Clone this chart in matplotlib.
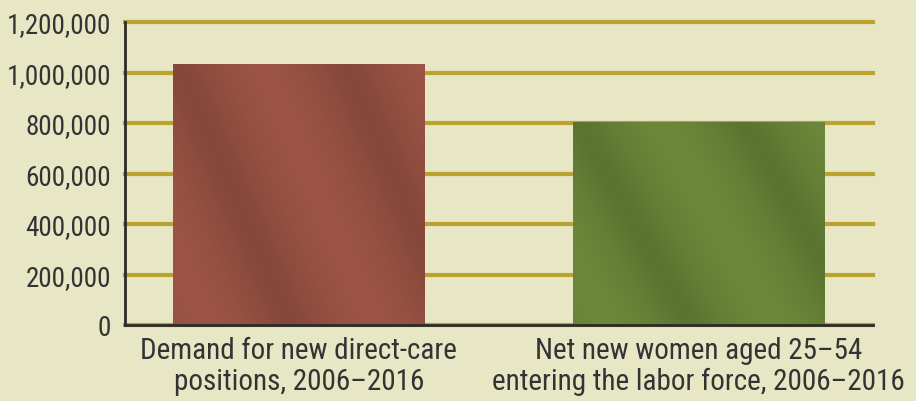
import matplotlib.pyplot as plt
import numpy as np
from matplotlib.colors import to_rgb
from matplotlib.ticker import FuncFormatter

# data
categories = ['Demand for new direct-care\npositions, 2006\u20132016',
              'Net new women aged 25\u201354\nentering the labor force, 2006\u20132016']
values = [1035000, 805000]
yticks = [0, 200000, 400000, 600000, 800000, 1000000, 1200000]

# colours
bg = '#e7e6c5'
grid_col = '#bba32f'
text_col = '#333333'
bar_light = ['#9b5446', '#6c873a']
bar_dark = ['#7a4235', '#536c2d']

plt.rcParams['font.family'] = ['Roboto Condensed', 'DejaVu Sans']

fig = plt.figure(figsize=(9.16, 4.02), dpi=100, facecolor=bg)
ax = fig.add_axes([125 / 916, 1 - 326 / 402, 748 / 916, 303 / 402])
ax.set_facecolor(bg)

x = np.arange(len(values))
width = 0.63
bars = ax.bar(x, values, width=width, color=bar_light, zorder=2)

# diagonal light/dark shading on each bar
for b, lc, dc in zip(bars, bar_light, bar_dark):
    x0, y0 = b.get_x(), b.get_y()
    w, h = b.get_width(), b.get_height()
    n = 200
    u, v = np.meshgrid(np.linspace(0, 1, n), np.linspace(0, 1, n))
    d = u + 0.45 * v
    t = 0.5 + 0.5 * np.cos(2 * np.pi * (d * 1.5 - 0.2))
    t = 0.3 + 0.7 * t ** 0.6
    c1 = np.array(to_rgb(lc))
    c2 = np.array(to_rgb(dc))
    img = c2 + (c1 - c2) * t[..., None]
    im = ax.imshow(img, extent=[x0, x0 + w, y0, y0 + h], origin='lower',
                   aspect='auto', zorder=3, interpolation='bilinear')
    im.set_clip_path(b)

ax.set_xlim(-0.435, 1.436)
ax.set_ylim(0, 1200000)
ax.set_yticks(yticks)
ax.yaxis.set_major_formatter(FuncFormatter(lambda v, p: f'{int(v):,}'))
ax.set_xticks(x)
ax.set_xticklabels(categories, fontsize=21, color=text_col, linespacing=1.12)
ax.tick_params(axis='y', length=0, pad=10, labelsize=19.5, labelcolor=text_col)
ax.tick_params(axis='x', length=0, pad=8)

ax.grid(axis='y', color=grid_col, linewidth=3, zorder=1)
for gl in ax.get_ygridlines():
    gl.set_clip_on(False)
ax.set_axisbelow(True)
for s in ['top', 'right']:
    ax.spines[s].set_visible(False)
for s in ['left', 'bottom']:
    ax.spines[s].set_color('#2b2b2b')
    ax.spines[s].set_linewidth(2)
    ax.spines[s].set_zorder(4)
ax.spines['left'].set_bounds(0, 1200000)

fig.savefig('out.png', dpi=100, facecolor=bg)
